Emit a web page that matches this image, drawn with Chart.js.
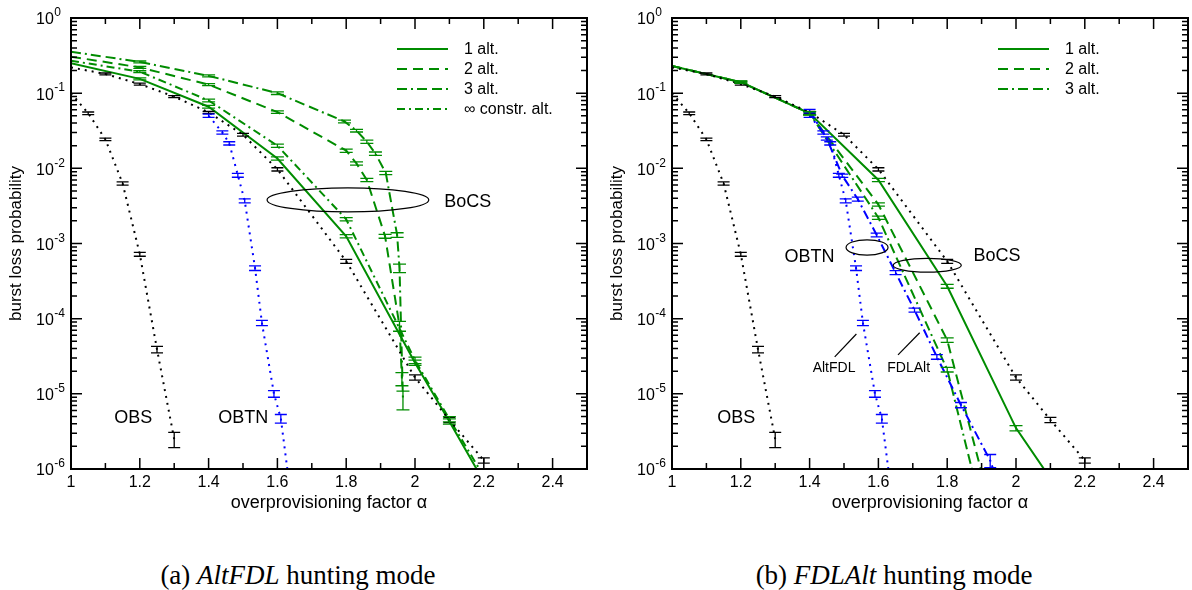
<!DOCTYPE html>
<html>
<head>
<meta charset="utf-8">
<script src="https://cdn.jsdelivr.net/npm/chart.js@4.4.1/dist/chart.umd.min.js"></script>
<style>
  body { margin: 0; background: #fff; width: 1192px; height: 590px; position: relative; overflow: hidden; }
  canvas { position: absolute; top: 0; }
  #chartA { left: 0; }
  #chartB { left: 596px; }
  .cap { position: absolute; top: 559px; width: 596px; text-align: center; font: 27px "Liberation Serif", "Times New Roman", serif; line-height: 32px; }
</style>
</head>
<body>
<canvas id="chartA" width="596" height="530"></canvas>
<canvas id="chartB" width="596" height="530"></canvas>
<div class="cap" style="left:0">(a) <i>AltFDL</i> hunting mode</div>
<div class="cap" style="left:596px">(b) <i>FDLAlt</i> hunting mode</div>

<script>
// axis ticks
const xTicks = [1, 1.2, 1.4, 1.6, 1.8, 2, 2.2, 2.4];
const xTickLabels = ['1', '1.2', '1.4', '1.6', '1.8', '2', '2.2', '2.4'];
const xMinorTicks = [1.1, 1.3, 1.5, 1.7, 1.9, 2.1, 2.3];
const yTicks = [1, 1e-1, 1e-2, 1e-3, 1e-4, 1e-5, 1e-6];
const yTickExps = ['0', '-1', '-2', '-3', '-4', '-5', '-6'];

// reference curves, same in both panels (errors are relative half-widths)
const obsX = [1.0, 1.05, 1.1, 1.15, 1.2, 1.25, 1.3];
const obsY = [0.1, 0.054, 0.0243, 0.0063, 7.2e-4, 3.9e-5, 2.5e-6];
const obsErr = [0, 0.04, 0.04, 0.05, 0.06, 0.1, 0.23];

const bocsX = [1.0, 1.1, 1.2, 1.3, 1.4, 1.5, 1.6, 1.8, 2.0, 2.1, 2.2];
const bocsY = [0.22, 0.18, 0.132, 0.09, 0.0556, 0.028, 0.0097, 5.8e-4, 1.65e-5, 4.5e-6, 1.3e-6];
const bocsErr = [0, 0.03, 0.03, 0.03, 0.03, 0.04, 0.05, 0.06, 0.08, 0.08, 0.08];

const obtnX = [1.4, 1.44, 1.46, 1.485, 1.505, 1.535, 1.555, 1.59, 1.61, 1.64];
const obtnY = [0.05, 0.030, 0.0215, 0.0081, 0.0037, 4.7e-4, 8.8e-5, 1.0e-5, 4.7e-6, 4e-7];
const obtnErr = [0.05, 0.05, 0.05, 0.06, 0.06, 0.07, 0.08, 0.1, 0.13, 0];

// (a) AltFDL hunting mode
const aAlt1X = [1.0, 1.2, 1.4, 1.6, 1.8, 2.0, 2.1, 2.2];
const aAlt1Y = [0.25, 0.155, 0.066, 0.0135, 1.25e-3, 2.6e-5, 4.3e-6, 6.8e-7];
const aAlt1Err = [0, 0.03, 0.04, 0.05, 0.05, 0.08, 0.08, 0];

const aAlt2X = [1.0, 1.2, 1.4, 1.6, 1.8, 1.83, 1.86, 1.913, 1.955, 1.962];
const aAlt2Y = [0.306, 0.22, 0.13, 0.056, 0.0172, 0.0116, 7e-3, 1.25e-3, 8e-5, 1.6e-5];
const aAlt2Err = [0, 0.03, 0.03, 0.04, 0.05, 0.05, 0.05, 0.06, 0.15, 0.2];

const aAlt3X = [1.0, 1.2, 1.4, 1.6, 1.795, 1.83, 1.86, 1.885, 1.915, 1.948, 1.955, 1.965];
const aAlt3Y = [0.356, 0.26, 0.17, 0.1, 0.042, 0.0317, 0.0226, 0.0157, 0.0087, 1.3e-3, 4.7e-4, 8.5e-6];
const aAlt3Err = [0, 0.03, 0.03, 0.04, 0.04, 0.04, 0.05, 0.05, 0.05, 0.07, 0.13, 0.28];

const aInfX = [1.0, 1.2, 1.4, 1.6, 1.8, 2.0, 2.1, 2.2];
const aInfY = [0.27, 0.193, 0.08, 0.02, 2.1e-3, 2.8e-5, 4.6e-6, 8e-7];
const aInfErr = [0, 0.03, 0.04, 0.05, 0.05, 0.1, 0.08, 0];

// (b) FDLAlt hunting mode
const bAlt1X = [1.0, 1.2, 1.4, 1.6, 1.8, 2.0, 2.1];
const bAlt1Y = [0.23, 0.14, 0.054, 7e-3, 2.7e-4, 3.5e-6, 7.5e-7];
const bAlt1Err = [0, 0.03, 0.05, 0.05, 0.06, 0.08, 0];

const bAlt2X = [1.0, 1.2, 1.4, 1.6, 1.8, 1.9];
const bAlt2Y = [0.23, 0.14, 0.054, 3.3e-3, 5.2e-5, 9e-7];
const bAlt2Err = [0, 0.03, 0.05, 0.05, 0.07, 0];

const bAlt3X = [1.0, 1.2, 1.4, 1.6, 1.8, 1.9];
const bAlt3Y = [0.23, 0.14, 0.054, 2.2e-3, 2.1e-5, 3e-7];
const bAlt3Err = [0, 0.03, 0.05, 0.05, 0.07, 0];

const bObtnX = [1.4, 1.45, 1.495, 1.54, 1.595, 1.65, 1.705, 1.77, 1.84, 1.925, 1.95];
const bObtnY = [0.058, 0.025, 8e-3, 3.9e-3, 1.3e-3, 4.1e-4, 1.3e-4, 3.1e-5, 7.1e-6, 1.3e-6, 6e-7];
const bObtnErr = [0.05, 0.05, 0.05, 0.06, 0.06, 0.06, 0.06, 0.07, 0.08, 0.2, 0];

const GREEN = 'rgb(0,140,0)';
const BLUE = 'rgb(0,0,255)';
const FONT = '"Liberation Sans", Arial, sans-serif';

function series(xs, ys, errs, style) {
  return Object.assign({
    data: xs.map((x, i) => ({ x: x, y: ys[i] })),
    errors: errs,
    showLine: true,
    pointRadius: 0,
    borderWidth: 2,
    fill: false,
    tension: 0
  }, style);
}

const dotted = (color) => ({ borderColor: color, borderDash: [2, 5], borderCapStyle: 'butt', capHalf: 6 });
const green = (dash, label) => ({ borderColor: GREEN, borderDash: dash, capHalf: 6.5, legendLabel: label });

// error bars drawn through the chart's own scales
const errorBarPlugin = {
  id: 'errorBars',
  afterDatasetsDraw(chart) {
    const { ctx, chartArea: a, scales: { x, y } } = chart;
    ctx.save();
    ctx.beginPath();
    ctx.rect(a.left, a.top, a.right - a.left, a.bottom - a.top);
    ctx.clip();
    chart.data.datasets.forEach(ds => {
      if (!ds.errors) return;
      ctx.strokeStyle = ds.borderColor;
      ctx.lineWidth = 1.3;
      ctx.setLineDash([]);
      ds.data.forEach((pt, i) => {
        const e = ds.errors[i];
        if (!e) return;
        const px = x.getPixelForValue(pt.x);
        const lo = y.getPixelForValue(pt.y * (1 - e));
        const hi = y.getPixelForValue(pt.y * (1 + e));
        const h = ds.capHalf;
        ctx.beginPath();
        ctx.moveTo(px, lo); ctx.lineTo(px, hi);
        ctx.moveTo(px - h, lo); ctx.lineTo(px + h, lo);
        ctx.moveTo(px - h, hi); ctx.lineTo(px + h, hi);
        ctx.stroke();
      });
    });
    ctx.restore();
  }
};

// frame with inward ticks, tick labels and axis titles
const framePlugin = {
  id: 'frame',
  afterDraw(chart) {
    const { ctx, chartArea: a, scales: { x, y } } = chart;
    ctx.save();
    ctx.strokeStyle = '#000';
    ctx.setLineDash([]);
    ctx.lineWidth = 1.5;
    ctx.beginPath();
    const seg = (x0, y0, x1, y1) => { ctx.moveTo(x0, y0); ctx.lineTo(x1, y1); };
    const xTick = (v, len) => {
      const p = x.getPixelForValue(v);
      seg(p, a.bottom, p, a.bottom - len);
      seg(p, a.top, p, a.top + len);
    };
    const yTick = (v, len) => {
      const p = y.getPixelForValue(v);
      seg(a.left, p, a.left + len, p);
      seg(a.right, p, a.right - len, p);
    };
    xTicks.forEach(v => xTick(v, 11));
    xMinorTicks.forEach(v => xTick(v, 6));
    yTicks.forEach(v => yTick(v, 11));
    for (let d = -6; d < 0; d++) {
      for (let m = 2; m < 10; m++) yTick(m * Math.pow(10, d), 6);
    }
    ctx.stroke();
    ctx.lineWidth = 2;
    ctx.strokeRect(a.left, a.top, a.right - a.left, a.bottom - a.top);

    ctx.fillStyle = '#000';
    ctx.font = '16px ' + FONT;
    ctx.textAlign = 'center';
    ctx.textBaseline = 'middle';
    xTicks.forEach((v, i) => ctx.fillText(xTickLabels[i], x.getPixelForValue(v), a.bottom + 14));

    ctx.textAlign = 'left';
    yTicks.forEach((v, i) => {
      const p = y.getPixelForValue(v);
      ctx.font = '16px ' + FONT;
      ctx.fillText('10', a.left - 35, p + 2);
      const w = ctx.measureText('10').width;
      ctx.font = '12px ' + FONT;
      ctx.fillText(yTickExps[i], a.left - 35 + w + 0.5, p - 5);
    });

    ctx.textAlign = 'center';
    ctx.textBaseline = 'alphabetic';
    ctx.font = '18px ' + FONT;
    ctx.fillText('overprovisioning factor \u03b1', (a.left + a.right) / 2, a.bottom + 39);
    ctx.save();
    ctx.font = '17px ' + FONT;
    ctx.translate(a.left - 50, (a.top + a.bottom) / 2);
    ctx.rotate(-Math.PI / 2);
    ctx.fillText('burst loss probability', 0, 0);
    ctx.restore();

    // legend, top right inside the frame
    ctx.font = '16px ' + FONT;
    let row = 0;
    chart.data.datasets.forEach(ds => {
      if (!ds.legendLabel) return;
      const ly = a.top + 31 + row * 20;
      ctx.strokeStyle = ds.borderColor;
      ctx.lineWidth = 2;
      ctx.setLineDash(ds.borderDash || []);
      ctx.beginPath();
      ctx.moveTo(a.right - 190, ly);
      ctx.lineTo(a.right - 139, ly);
      ctx.stroke();
      ctx.setLineDash([]);
      ctx.textAlign = 'left';
      ctx.textBaseline = 'middle';
      ctx.fillText(ds.legendLabel, a.right - 123, ly + 1);
      row++;
    });
    ctx.restore();
  }
};

// ellipses, labels and leader lines placed in data coordinates
const notesPlugin = {
  id: 'notes',
  afterDraw(chart) {
    const { ctx, scales: { x, y } } = chart;
    const notes = chart.options.notes || [];
    ctx.save();
    ctx.strokeStyle = '#000';
    ctx.fillStyle = '#000';
    ctx.lineWidth = 1.2;
    notes.forEach(n => {
      if (n.type === 'ellipse') {
        const x0 = x.getPixelForValue(n.x0), x1 = x.getPixelForValue(n.x1);
        const y0 = y.getPixelForValue(n.y0), y1 = y.getPixelForValue(n.y1);
        ctx.beginPath();
        ctx.ellipse((x0 + x1) / 2, (y0 + y1) / 2, Math.abs(x1 - x0) / 2, Math.abs(y1 - y0) / 2, 0, 0, Math.PI * 2);
        ctx.stroke();
      } else if (n.type === 'line') {
        ctx.beginPath();
        ctx.moveTo(x.getPixelForValue(n.x0), y.getPixelForValue(n.y0));
        ctx.lineTo(x.getPixelForValue(n.x1), y.getPixelForValue(n.y1));
        ctx.stroke();
      } else {
        ctx.font = n.size + 'px ' + FONT;
        ctx.textAlign = n.align || 'center';
        ctx.textBaseline = 'middle';
        ctx.fillText(n.text, x.getPixelForValue(n.x), y.getPixelForValue(n.y));
      }
    });
    ctx.restore();
  }
};

function makePanel(id, padLeft, padRight, datasets, notes) {
  return new Chart(document.getElementById(id), {
    type: 'scatter',
    data: { datasets: datasets },
    options: {
      responsive: false,
      animation: false,
      devicePixelRatio: 1,
      events: [],
      layout: { padding: { left: padLeft, right: padRight, top: 18, bottom: 61 } },
      scales: {
        x: { type: 'linear', min: 1, max: 2.5, display: false },
        y: { type: 'logarithmic', min: 1e-6, max: 1, display: false }
      },
      plugins: { legend: { display: false }, tooltip: { enabled: false } },
      notes: notes
    },
    plugins: [errorBarPlugin, framePlugin, notesPlugin]
  });
}

makePanel('chartA', 71, 9, [
  series(bocsX, bocsY, bocsErr, dotted('#000')),
  series(obsX, obsY, obsErr, dotted('#000')),
  series(obtnX, obtnY, obtnErr, dotted(BLUE)),
  series(aAlt1X, aAlt1Y, aAlt1Err, green([], '1 alt.')),
  series(aAlt2X, aAlt2Y, aAlt2Err, green([10, 6], '2 alt.')),
  series(aAlt3X, aAlt3Y, aAlt3Err, green([10, 4, 2, 4, 10, 5], '3 alt.')),
  series(aInfX, aInfY, aInfErr, green([8, 4, 2, 4], '\u221e constr. alt.'))
], [
  { type: 'ellipse', x0: 1.57, x1: 2.04, y0: 2.63e-3, y1: 5.5e-3 },
  { type: 'text', text: 'BoCS', x: 2.085, y: 3.6e-3, size: 18, align: 'left' },
  { type: 'text', text: 'OBS', x: 1.181, y: 4.7e-6, size: 18 },
  { type: 'text', text: 'OBTN', x: 1.501, y: 4.7e-6, size: 18 }
]);

makePanel('chartB', 76, 4, [
  series(bocsX, bocsY, bocsErr, dotted('#000')),
  series(obsX, obsY, obsErr, dotted('#000')),
  series(obtnX, obtnY, obtnErr, dotted(BLUE)),
  series(bObtnX, bObtnY, bObtnErr, { borderColor: BLUE, borderDash: [9, 4, 2, 4], capHalf: 6 }),
  series(bAlt1X, bAlt1Y, bAlt1Err, green([], '1 alt.')),
  series(bAlt2X, bAlt2Y, bAlt2Err, green([10, 6], '2 alt.')),
  series(bAlt3X, bAlt3Y, bAlt3Err, green([10, 4, 2, 4, 10, 5], '3 alt.'))
], [
  { type: 'ellipse', x0: 1.506, x1: 1.628, y0: 7.0e-4, y1: 1.12e-3 },
  { type: 'text', text: 'OBTN', x: 1.40, y: 6.7e-4, size: 18 },
  { type: 'ellipse', x0: 1.643, x1: 1.841, y0: 4.15e-4, y1: 6.35e-4 },
  { type: 'text', text: 'BoCS', x: 1.945, y: 6.8e-4, size: 18 },
  { type: 'line', x0: 1.536, y0: 6.25e-5, x1: 1.473, y1: 3.1e-5 },
  { type: 'text', text: 'AltFDL', x: 1.471, y: 2.23e-5, size: 14 },
  { type: 'line', x0: 1.72, y0: 6.5e-5, x1: 1.657, y1: 3.3e-5 },
  { type: 'text', text: 'FDLAlt', x: 1.688, y: 2.23e-5, size: 14 },
  { type: 'text', text: 'OBS', x: 1.187, y: 4.7e-6, size: 18 }
]);
</script>
</body>
</html>
